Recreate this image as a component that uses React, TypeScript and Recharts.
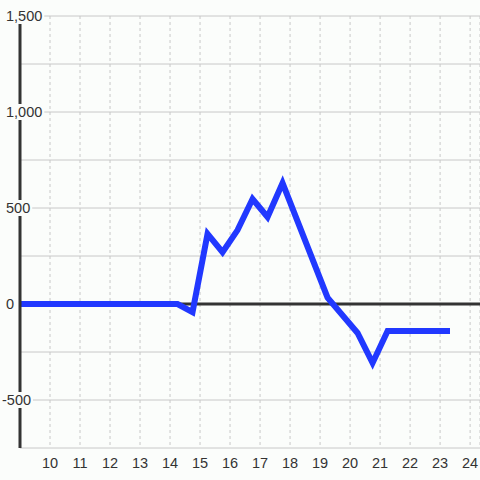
import { LineChart, Line, XAxis, YAxis, CartesianGrid, ReferenceLine } from 'recharts';

// hour of day and the value read at that time
const hours = [9, 14.25, 14.75, 15.25, 15.75, 16.25, 16.75, 17.25, 17.75, 19.25, 20.25, 20.75, 21.25, 23.33];
const values = [0, 0, -42, 365, 270, 385, 547, 453, 630, 33, -151, -307, -140, -140];

const xTicks = [10, 11, 12, 13, 14, 15, 16, 17, 18, 19, 20, 21, 22, 23, 24];
const yTicks = [-750, -500, -250, 0, 250, 500, 750, 1000, 1250, 1500];

const data = hours.map((h, i) => ({ hour: h, value: values[i] }));

const BG = '#fbfdfb';
const TEXT = '#333';
const FONT = '"Liberation Sans", Arial, sans-serif';
const FS = 14.5;

// rough text width for the label background
const textWidth = (s: string, size: number) => {
  let w = 0;
  for (const c of s) {
    if (c === ',') w += 0.278;
    else if (c === '-') w += 0.333;
    else w += 0.556;
  }
  return w * size;
};

const YTick = ({ y, payload }: any) => {
  const v = payload.value;
  if (v % 500 !== 0 || v === -750) return null;
  const label = v.toLocaleString('en-US');
  const w = textWidth(label, FS);
  const x0 = v < 0 ? 2 : 6;
  return (
    <g>
      <rect x={x0 - 1} y={y - 8} width={w + 3} height={16} fill={BG} />
      <text x={x0} y={y} dy={5} fontSize={FS} fill={TEXT} fontFamily={FONT} textAnchor="start">
        {label}
      </text>
    </g>
  );
};

export default function App() {
  return (
    <div style={{ position: 'fixed', left: 0, top: 0, width: 480, height: 480, background: BG }}>
      <LineChart width={480} height={480} data={data} margin={{ top: 16, right: 0, bottom: 0, left: 0 }}>
        <CartesianGrid horizontal={true} vertical={false} stroke="#c8c8c8" />
        <CartesianGrid horizontal={false} vertical={true} stroke="#c8c8c8" strokeDasharray="3 3" />
        <XAxis
          dataKey="hour"
          type="number"
          domain={[9, 24.33]}
          ticks={xTicks}
          allowDataOverflow
          axisLine={false}
          tickLine={false}
          height={32}
          tick={{ fontSize: FS, fill: TEXT, fontFamily: FONT }}
          tickMargin={4}
          interval={0}
        />
        <YAxis
          type="number"
          domain={[-750, 1500]}
          ticks={yTicks}
          width={20}
          tickLine={false}
          axisLine={{ stroke: '#333', strokeWidth: 3 }}
          tick={<YTick />}
          interval={0}
        />
        <ReferenceLine y={0} stroke="#333" strokeWidth={3} />
        <Line
          type="linear"
          dataKey="value"
          stroke="#2138ff"
          strokeWidth={6}
          dot={false}
          activeDot={false}
          isAnimationActive={false}
        />
      </LineChart>
    </div>
  );
}
